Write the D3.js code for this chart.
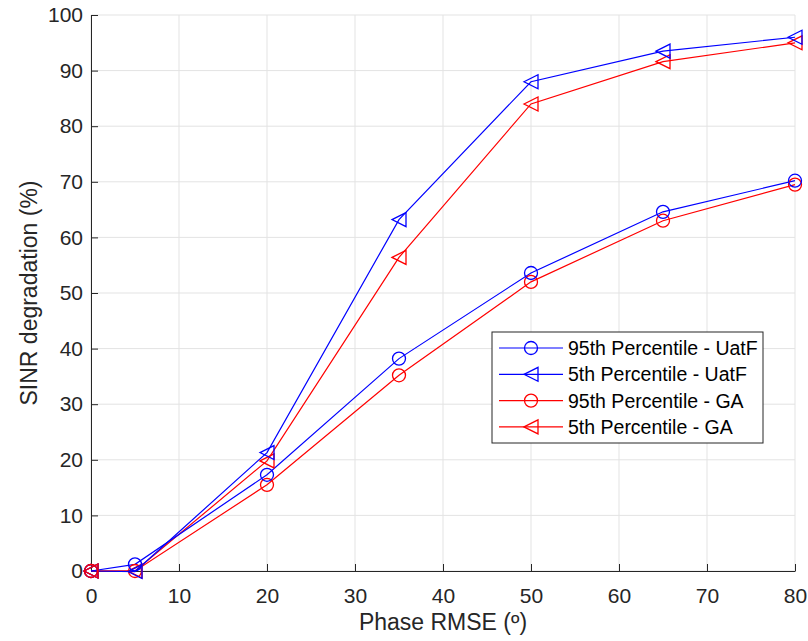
<!DOCTYPE html>
<html>
<head>
<meta charset="utf-8">
<script src="https://cdn.jsdelivr.net/npm/d3@7"></script>
<style>
  body { margin: 0; background: #fff; }
  text { font-family: "Liberation Sans", Arial, sans-serif; }
</style>
</head>
<body>
<script>
'use strict'

const phase = [0, 5, 20, 35, 50, 65, 80]
const p95UatF = [0, 1.2, 17.3, 38.2, 53.6, 64.6, 70.2]
const p5UatF = [0, -0.1, 21.3, 63.2, 88.0, 93.5, 96.0]
const p95GA = [0, 0, 15.5, 35.2, 52.0, 63.0, 69.5]
const p5GA = [0, 0, 19.8, 56.4, 84.0, 91.6, 95.0]
const xTicks = [0, 10, 20, 30, 40, 50, 60, 70, 80]
const yTicks = [0, 10, 20, 30, 40, 50, 60, 70, 80, 90, 100]

const series = [
  {name: '95th Percentile - UatF', vals: p95UatF, color: '#0000ff', mark: 'circle'},
  {name: '5th Percentile - UatF', vals: p5UatF, color: '#0000ff', mark: 'tri'},
  {name: '95th Percentile - GA', vals: p95GA, color: '#ff0000', mark: 'circle'},
  {name: '5th Percentile - GA', vals: p5GA, color: '#ff0000', mark: 'tri'}
]

const W = 808, H = 641
const margin = {top: 15, right: 13, bottom: 70, left: 91}
const width = W - margin.left - margin.right
const height = H - margin.top - margin.bottom

const x = d3.scaleLinear().domain([0, 80]).range([0, width])
const y = d3.scaleLinear().domain([0, 100]).range([height, 0])

const svg = d3.select('body').append('svg')
  .attr('width', W).attr('height', H)

const g = svg.append('g')
  .attr('transform', 'translate(' + [margin.left, margin.top] + ')')

// grid
g.append('g').selectAll('line').data(xTicks).enter().append('line')
  .attr('x1', d => x(d)).attr('x2', d => x(d))
  .attr('y1', 0).attr('y2', height)
  .attr('stroke', '#e3e3e3').attr('stroke-width', 1)
g.append('g').selectAll('line').data(yTicks).enter().append('line')
  .attr('x1', 0).attr('x2', width)
  .attr('y1', d => y(d)).attr('y2', d => y(d))
  .attr('stroke', '#e3e3e3').attr('stroke-width', 1)

// axes
const xAxis = g.append('g')
  .attr('transform', 'translate(0,' + height + ')')
  .call(d3.axisBottom(x).tickValues(xTicks).tickSize(-7).tickPadding(17).tickSizeOuter(0))
const yAxis = g.append('g')
  .call(d3.axisLeft(y).tickValues(yTicks).tickSize(-7).tickPadding(8).tickSizeOuter(0))

;[xAxis, yAxis].forEach(a => {
  a.select('.domain').attr('stroke', '#262626')
  a.selectAll('.tick line').attr('stroke', '#262626')
  a.selectAll('.tick text').attr('fill', '#262626').style('font-size', '21px')
})

svg.append('text')
  .attr('x', margin.left + width / 2).attr('y', 630)
  .attr('text-anchor', 'middle').attr('fill', '#262626')
  .style('font-size', '23px')
  .text('Phase RMSE (º)')

svg.append('text')
  .attr('transform', 'translate(37,' + (margin.top + height / 2) + ') rotate(-90)')
  .attr('text-anchor', 'middle').attr('fill', '#262626')
  .style('font-size', '23px')
  .text('SINR degradation (%)')

const line = d3.line()
  .x((d, i) => x(phase[i]))
  .y(d => y(d))

const triPath = 'M-7,0L7,-7L7,7Z'

function drawMarker(sel, mark, color) {
  if (mark === 'circle') {
    sel.append('circle').attr('r', 6.5)
      .attr('fill', 'none').attr('stroke', color).attr('stroke-width', 1.3)
  } else {
    sel.append('path').attr('d', triPath)
      .attr('fill', 'none').attr('stroke', color).attr('stroke-width', 1.3)
  }
}

// red first so the blue markers sit on top at 5; origin markers red on top
const order = [2, 3, 0, 1]
order.forEach(k => {
  const s = series[k]
  g.append('path')
    .attr('d', line(s.vals))
    .attr('fill', 'none').attr('stroke', s.color).attr('stroke-width', 1.2)
})
const drawSeriesMarks = (s, keep) => {
  const pts = s.vals.map((v, i) => [phase[i], v]).filter((p, i) => keep(i))
  g.append('g').selectAll('g').data(pts).enter().append('g')
    .attr('transform', d => 'translate(' + [x(d[0]), y(d[1])] + ')')
    .each(function () { drawMarker(d3.select(this), s.mark, s.color) })
}
order.forEach(k => drawSeriesMarks(series[k], i => true))
;[2, 3].forEach(k => drawSeriesMarks(series[k], i => i === 0))

// legend
const leg = svg.append('g').attr('transform', 'translate(492,332)')
leg.append('rect').attr('width', 271).attr('height', 111)
  .attr('fill', '#fff').attr('stroke', '#262626').attr('stroke-width', 1)
series.forEach((s, i) => {
  const row = leg.append('g').attr('transform', 'translate(0,' + (16 + i * 26.3) + ')')
  row.append('line').attr('x1', 7).attr('x2', 71).attr('y1', 0).attr('y2', 0)
    .attr('stroke', s.color).attr('stroke-width', 1.2)
  const m = row.append('g').attr('transform', 'translate(39,0)')
  drawMarker(m, s.mark, s.color)
  row.append('text').attr('x', 76).attr('y', 7)
    .style('font-size', '19.5px').attr('fill', '#000')
    .text(s.name)
})
</script>
</body>
</html>
